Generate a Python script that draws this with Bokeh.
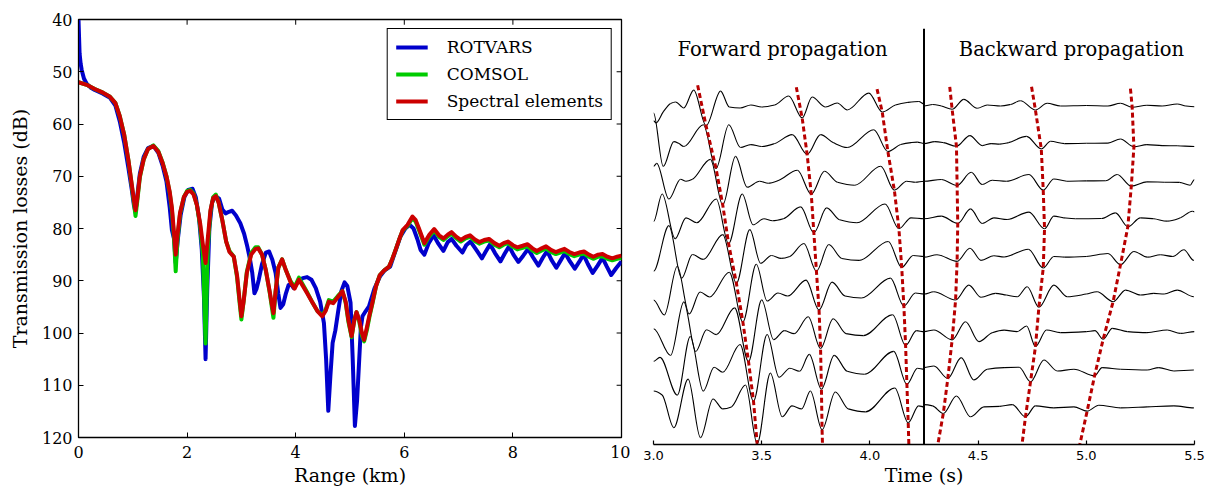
from bokeh.plotting import figure
from bokeh.layouts import row
from bokeh.models import (Range1d, FixedTicker, Legend, LegendItem,
                          ColumnDataSource, Span)
from bokeh.core.properties import value
from bokeh.embed import file_html
from bokeh.resources import INLINE

SERIF = "DejaVu Serif"
SANS = "DejaVu Sans"

# ------------------------------------------------------------------ left panel data
range_ticks = [0, 2, 4, 6, 8, 10]
loss_ticks = [40, 50, 60, 70, 80, 90, 100, 110, 120]

# ROTVARS : (range km, transmission loss dB)
rotvars_rows = [
    (0.00, 40.0), (0.02, 46.5), (0.04, 48.5), (0.06, 49.7), (0.10, 51.3), (0.15, 52.3),
    (0.22, 53.0), (0.30, 53.5), (0.45, 54.2), (0.58, 55.0), (0.68, 56.5), (0.76, 59.5),
    (0.84, 63.5), (0.92, 68.5), (0.98, 72.5), (1.02, 75.5), (1.05, 76.9), (1.08, 74.0),
    (1.13, 69.5), (1.20, 66.3), (1.28, 64.6), (1.38, 64.2), (1.47, 65.5), (1.55, 68.0),
    (1.62, 71.0), (1.68, 76.0), (1.72, 80.3), (1.76, 82.0), (1.79, 86.6), (1.83, 82.0),
    (1.88, 77.5), (1.95, 74.0), (2.02, 72.6), (2.10, 72.4), (2.16, 74.0), (2.22, 78.0),
    (2.27, 84.0), (2.31, 93.0), (2.34, 105.0), (2.37, 92.0), (2.41, 80.0), (2.46, 75.0),
    (2.52, 73.8), (2.59, 74.3), (2.65, 76.4), (2.71, 77.1), (2.77, 76.8), (2.83, 76.6),
    (2.90, 77.5), (2.98, 79.0), (3.05, 81.0), (3.11, 83.5), (3.16, 86.0), (3.20, 88.5),
    (3.24, 92.4), (3.28, 91.5), (3.32, 89.8), (3.38, 86.8), (3.45, 84.6), (3.51, 84.4),
    (3.57, 86.0), (3.63, 88.5), (3.68, 92.5), (3.72, 95.2), (3.77, 94.5), (3.82, 92.4),
    (3.87, 90.8), (3.92, 90.7), (3.96, 91.4), (4.05, 90.1), (4.13, 89.5), (4.21, 89.3),
    (4.29, 89.8), (4.37, 91.4), (4.45, 94.0), (4.52, 98.1), (4.56, 105.0), (4.60, 114.9),
    (4.64, 108.0), (4.68, 101.9), (4.73, 99.5), (4.78, 96.0), (4.84, 92.0), (4.90, 90.3),
    (4.95, 91.0), (5.01, 94.2), (5.05, 105.0), (5.09, 117.8), (5.13, 113.0), (5.16, 107.0),
    (5.20, 99.0), (5.23, 96.8), (5.29, 95.8), (5.35, 94.9), (5.45, 91.5), (5.55, 89.2),
    (5.64, 88.0), (5.74, 87.3), (5.83, 84.5), (5.93, 81.5), (6.02, 80.0), (6.10, 79.3),
    (6.17, 80.0), (6.24, 82.0), (6.30, 84.1), (6.37, 85.0), (6.45, 82.8), (6.54, 81.3),
    (6.62, 82.8), (6.72, 84.3), (6.80, 82.6), (6.87, 82.0), (6.96, 83.3), (7.07, 84.6),
    (7.14, 83.2), (7.22, 82.5), (7.32, 84.0), (7.43, 85.7), (7.50, 84.4), (7.58, 83.0),
    (7.67, 84.7), (7.77, 86.3), (7.85, 84.8), (7.93, 83.4), (8.01, 85.0), (8.10, 86.4),
    (8.19, 85.2), (8.28, 83.9), (8.37, 85.5), (8.47, 87.1), (8.55, 85.6), (8.63, 84.3),
    (8.71, 86.0), (8.80, 87.5), (8.88, 86.1), (8.96, 84.7), (9.05, 86.3), (9.14, 87.7),
    (9.22, 86.4), (9.30, 85.0), (9.38, 86.8), (9.47, 88.5), (9.56, 87.1), (9.65, 85.6),
    (9.73, 87.3), (9.81, 88.9), (9.90, 87.6), (10.00, 86.3),
]

# Spectral elements and COMSOL : (range km, spectral elements dB, COMSOL dB)
se_comsol_rows = [
    (0.00, 52.0, 52.0), (0.15, 52.5, 52.5), (0.30, 53.3, 53.3), (0.45, 54.0, 54.0),
    (0.58, 54.8, 54.8), (0.68, 56.0, 56.0), (0.76, 58.5, 58.5), (0.84, 62.0, 62.0),
    (0.92, 67.0, 67.0), (0.98, 71.5, 71.7), (1.02, 74.5, 75.0), (1.05, 76.5, 77.6),
    (1.08, 74.5, 75.0), (1.13, 70.0, 70.2), (1.20, 66.8, 66.8), (1.28, 64.8, 64.8),
    (1.38, 64.2, 64.1), (1.47, 65.3, 65.2), (1.55, 67.5, 67.4), (1.62, 70.0, 70.0),
    (1.68, 73.0, 73.2), (1.72, 76.0, 76.5), (1.76, 81.0, 82.0), (1.79, 85.0, 88.2),
    (1.82, 81.5, 82.5), (1.87, 77.0, 77.2), (1.94, 74.0, 74.0), (2.00, 73.0, 72.8),
    (2.06, 72.8, 72.6), (2.12, 73.5, 73.3), (2.18, 75.5, 75.5), (2.24, 79.0, 79.5),
    (2.29, 83.0, 85.0), (2.34, 86.6, 102.0), (2.38, 82.0, 84.0), (2.43, 76.5, 76.8),
    (2.48, 74.2, 74.0), (2.53, 73.8, 73.5), (2.58, 75.0, 75.0), (2.65, 78.5, 78.5),
    (2.72, 82.5, 82.5), (2.78, 84.5, 84.3), (2.86, 85.4, 85.4), (2.92, 89.0, 89.3),
    (2.97, 94.0, 94.5), (3.00, 96.8, 97.4), (3.04, 94.0, 94.0), (3.10, 88.5, 88.3),
    (3.18, 85.0, 84.7), (3.26, 83.9, 83.6), (3.31, 83.8, 83.6), (3.38, 85.0, 85.0),
    (3.45, 88.0, 88.0), (3.52, 92.0, 92.2), (3.56, 94.5, 95.0), (3.59, 96.2, 97.1),
    (3.63, 92.0, 92.0), (3.68, 87.5, 87.5), (3.75, 85.9, 85.9), (3.82, 88.0, 88.0),
    (3.91, 90.4, 90.2), (3.98, 91.5, 91.2), (4.06, 89.8, 89.4), (4.12, 90.8, 90.5),
    (4.20, 92.2, 92.0), (4.30, 94.0, 94.0), (4.40, 95.8, 95.8), (4.49, 96.8, 96.6),
    (4.55, 95.8, 95.6), (4.61, 94.0, 93.7), (4.69, 94.3, 94.0), (4.77, 93.2, 93.0),
    (4.86, 92.0, 92.0), (4.92, 94.0, 94.2), (4.97, 97.5, 97.8), (5.03, 100.6, 100.8),
    (5.08, 97.5, 97.5), (5.12, 96.0, 96.0), (5.17, 97.5, 97.8), (5.22, 100.0, 100.5),
    (5.26, 101.3, 101.6), (5.31, 99.0, 99.5), (5.36, 96.5, 96.8), (5.41, 94.3, 94.5),
    (5.48, 91.0, 91.0), (5.55, 88.9, 88.9), (5.63, 88.0, 88.0), (5.72, 87.3, 87.3),
    (5.78, 85.8, 85.8), (5.84, 84.1, 84.1), (5.91, 82.0, 82.0), (5.97, 80.3, 80.4),
    (6.06, 79.3, 79.5), (6.15, 77.7, 78.0), (6.21, 78.4, 78.7), (6.27, 80.0, 80.3),
    (6.37, 82.8, 83.1), (6.46, 81.2, 81.5), (6.55, 80.1, 80.4), (6.64, 81.3, 81.6),
    (6.72, 81.9, 82.2), (6.80, 81.2, 81.5), (6.87, 80.7, 81.0), (6.96, 81.6, 81.9),
    (7.04, 82.2, 82.5), (7.13, 81.6, 81.9), (7.21, 81.3, 81.6), (7.30, 82.1, 82.4),
    (7.38, 82.6, 82.9), (7.47, 82.2, 82.5), (7.56, 82.0, 82.3), (7.66, 82.8, 83.1),
    (7.75, 83.3, 83.6), (7.83, 82.8, 83.1), (7.91, 82.5, 82.8), (8.00, 83.2, 83.5),
    (8.08, 83.6, 84.0), (8.18, 83.3, 83.7), (8.27, 83.0, 83.4), (8.36, 83.8, 84.2),
    (8.44, 84.3, 84.7), (8.53, 83.8, 84.2), (8.61, 83.4, 83.8), (8.70, 84.1, 84.5),
    (8.79, 84.5, 84.9), (8.87, 84.2, 84.6), (8.95, 83.9, 84.3), (9.04, 84.5, 84.9),
    (9.13, 84.9, 85.3), (9.22, 84.6, 85.0), (9.31, 84.4, 84.8), (9.40, 85.0, 85.4),
    (9.48, 85.4, 85.8), (9.57, 85.0, 85.4), (9.65, 84.9, 85.3), (9.74, 85.4, 85.8),
    (9.83, 85.7, 86.1), (9.92, 85.4, 85.8), (10.00, 85.2, 85.6),
]

rotvars_km = [r[0] for r in rotvars_rows]
rotvars_db = [r[1] for r in rotvars_rows]
se_km = [r[0] for r in se_comsol_rows]
se_db = [r[1] for r in se_comsol_rows]
comsol_db = [r[2] for r in se_comsol_rows]

# ------------------------------------------------------------------ right panel data
time_ticks = [3.0, 3.5, 4.0, 4.5, 5.0, 5.5]
time_tick_labels = ["3.0", "3.5", "4.0", "4.5", "5.0", "5.5"]
switch_time = 4.25
trace_offsets = [9, 8, 7, 6, 5, 4, 3, 2, 1]
trace_gain = 1 / 37.9

# forward traces: (time s, amplitude)
fwd1 = [(3.000, -15), (3.012, -17), (3.045, -6), (3.079, 2.5), (3.102, 4), (3.140, -2), (3.186, 16),
        (3.243, -20), (3.310, 15), (3.350, -1), (3.400, -2), (3.450, 1), (3.500, -1), (3.560, 1),
        (3.625, 10), (3.687, -12), (3.733, 9), (3.795, -1), (3.849, 3), (3.895, -4), (3.995, 13),
        (4.057, -6), (4.118, 1), (4.172, 3.5), (4.226, 4.5), (4.250, 2)]
fwd2 = [(3.000, 31), (3.045, -23), (3.094, 2), (3.118, 0), (3.140, -3), (3.230, 19), (3.289, -25),
        (3.348, 19), (3.402, -4), (3.450, -1), (3.500, -3), (3.560, 0), (3.641, 9), (3.710, -11),
        (3.772, 9), (3.830, 1), (3.895, -4), (4.018, 14), (4.083, -8), (4.142, -1), (4.190, 1),
        (4.219, 1.5), (4.250, 0)]
fwd3 = [(3.000, 15), (3.015, 18), (3.071, -18), (3.125, 2), (3.150, 0), (3.180, 2), (3.263, 22),
        (3.320, -24), (3.379, 25), (3.433, -6), (3.490, 0), (3.530, -2), (3.580, 1), (3.665, 11),
        (3.729, -13), (3.790, 10), (3.850, -1), (3.930, -4), (4.050, 15), (4.113, -9), (4.170, 0),
        (4.210, -1), (4.250, 0)]
fwd4 = [(3.000, -3), (3.040, 25), (3.100, -20), (3.150, 1), (3.200, -4), (3.290, 20), (3.347, -25),
        (3.410, 25), (3.460, -6), (3.510, 0), (3.550, -2), (3.600, 0), (3.680, 12), (3.741, -14),
        (3.800, 11), (3.860, -1), (3.940, -4), (4.070, 15), (4.134, -10), (4.190, 1), (4.250, 0)]
fwd5 = [(3.000, -15), (3.071, 31), (3.130, -22), (3.180, 2), (3.230, -3), (3.320, 22), (3.383, -27),
        (3.445, 27), (3.495, -7), (3.545, 1), (3.590, -2), (3.630, 0), (3.695, 13), (3.753, -15),
        (3.810, 12), (3.870, -2), (3.950, -4), (4.085, 15), (4.147, -11), (4.200, 1), (4.250, 0)]
fwd6 = [(3.000, -6), (3.050, -21), (3.110, 28), (3.165, -20), (3.215, 2), (3.260, -3), (3.350, 22),
        (3.413, -28), (3.475, 30), (3.525, -7), (3.575, 1), (3.620, -2), (3.705, 14), (3.765, -16),
        (3.825, 12), (3.885, -2), (3.960, -4), (4.095, 16), (4.157, -12), (4.210, 1), (4.250, 0)]
fwd7 = [(3.000, 3), (3.079, -24), (3.140, 30), (3.195, -20), (3.245, 2), (3.290, -3), (3.375, 24),
        (3.439, -30), (3.500, 32), (3.555, -8), (3.605, 1), (3.650, -2), (3.715, 15), (3.772, -17),
        (3.830, 13), (3.890, -2), (3.970, -4), (4.105, 17), (4.165, -14), (4.215, 1), (4.250, 0)]
fwd8 = [(3.000, 8), (3.030, 12), (3.110, -26), (3.170, 33), (3.230, -22), (3.280, 2), (3.320, -3),
        (3.400, 25), (3.462, -32), (3.525, 35), (3.580, -8), (3.630, 1), (3.675, -2), (3.720, 15),
        (3.776, -20), (3.835, 14), (3.895, -2), (3.975, -5), (4.110, 18), (4.171, -15), (4.220, 1),
        (4.250, 0)]
fwd9 = [(3.000, 16), (3.040, 12), (3.094, -21), (3.160, 28), (3.217, -31), (3.275, 8), (3.320, -2),
        (3.360, 0), (3.425, 22), (3.479, -37), (3.540, 34), (3.595, -10), (3.640, 1), (3.685, -2),
        (3.725, 16), (3.779, -23), (3.840, 15), (3.900, -2), (3.980, -5), (4.115, 19), (4.177, -16),
        (4.225, 1), (4.250, 0)]

# backward traces: (time s, amplitude)
bwd1 = [(4.250, 0), (4.290, 1.5), (4.330, 0), (4.380, -3.3), (4.434, 6.7), (4.496, -2.3), (4.542, 1),
        (4.604, 0), (4.650, 1.5), (4.696, 5.3), (4.765, -4), (4.819, 2.7), (4.881, 0), (5.000, 0.5),
        (5.100, 0), (5.158, 2.7), (5.212, -1.3), (5.280, 0.7), (5.350, 0), (5.420, 2), (5.460, 0),
        (5.500, -0.7)]
bwd2 = [(4.250, 0), (4.300, 2), (4.340, 1), (4.400, -2.7), (4.462, 8), (4.519, -2), (4.560, 0),
        (4.600, -0.5), (4.640, 1), (4.724, 7.3), (4.792, -5.3), (4.835, 2.3), (4.900, 0), (5.000, 0.3),
        (5.100, 0.5), (5.158, 4.7), (5.220, -3.3), (5.280, -1), (5.350, -2), (5.420, -2.2), (5.500, -3)]
bwd3 = [(4.250, 0), (4.330, 1.7), (4.403, -4.3), (4.468, 9), (4.519, -3.3), (4.565, 1), (4.630, 0),
        (4.735, 6.7), (4.801, -9), (4.850, 2.3), (4.910, 0), (5.000, 0.3), (5.090, 0.5), (5.143, 6.7),
        (5.208, -5), (5.280, -0.7), (5.360, -1), (5.430, -1.2), (5.480, -4), (5.500, 1.7)]
bwd4 = [(4.250, 0), (4.330, 2.7), (4.406, -4.7), (4.465, 10), (4.519, -4.7), (4.573, 1), (4.634, -0.7),
        (4.735, 6.7), (4.807, -10), (4.850, 2.7), (4.896, 1), (4.950, 0), (5.070, 0.3), (5.135, 6),
        (5.192, -8), (5.250, 1), (5.312, 0), (5.374, -2.3), (5.435, 1), (5.490, 7.7), (5.500, 7)]
bwd5 = [(4.250, -0.7), (4.310, 1.7), (4.403, -5), (4.462, 8.3), (4.514, -4), (4.573, 0.7), (4.620, -0.5),
        (4.732, 7.3), (4.801, -11.7), (4.850, 0), (4.900, -0.7), (5.000, 0), (5.100, 3), (5.158, -8.3),
        (5.220, 5), (5.282, -0.7), (5.343, 1.7), (5.400, 0), (5.451, 6.7), (5.497, -4)]
bwd6 = [(4.250, 0), (4.295, 2.3), (4.396, -6), (4.457, 9), (4.514, -3.3), (4.580, 0.7), (4.630, -1),
        (4.681, -2.7), (4.727, 7.3), (4.781, -13.3), (4.850, 9), (4.912, -2.7), (5.000, 0), (5.050, 2.3),
        (5.124, -7.7), (5.181, 4), (5.250, -1), (5.312, 0.7), (5.360, 0), (5.420, 4), (5.497, -2.7)]
bwd7 = [(4.250, 0), (4.296, 1.7), (4.380, -8.3), (4.442, 10), (4.504, -10), (4.565, -1), (4.620, 1.5),
        (4.680, 0), (4.724, 5.7), (4.765, -15), (4.816, 1.7), (4.880, -1), (5.000, 0), (5.040, 1),
        (5.078, -7.7), (5.120, 3.3), (5.190, 0), (5.280, -1), (5.374, 1.7), (5.435, -1.7), (5.500, 0)]
bwd8 = [(4.250, 1.7), (4.296, 3.3), (4.360, -9.3), (4.422, 11.7), (4.480, -10.7), (4.542, 0),
        (4.620, 1.7), (4.690, 2), (4.742, -12.7), (4.804, 9.3), (4.866, -1.7), (4.943, 0),
        (5.038, -6.7), (5.073, 1.7), (5.158, 0), (5.281, -0.7), (5.335, 1.7), (5.405, -1.7),
        (5.497, -0.7)]
bwd9 = [(4.250, 2.3), (4.290, 1), (4.339, -6.7), (4.400, 11), (4.465, -10), (4.527, 0), (4.600, 0.5),
        (4.658, 2.3), (4.719, -10), (4.765, 1), (4.850, -1), (4.943, 0), (5.004, -4.3), (5.058, 1.7),
        (5.158, -1), (5.281, 0), (5.405, 1), (5.497, -1)]

forward_traces = [fwd1, fwd2, fwd3, fwd4, fwd5, fwd6, fwd7, fwd8, fwd9]
backward_traces = [bwd1, bwd2, bwd3, bwd4, bwd5, bwd6, bwd7, bwd8, bwd9]

# picked arrivals (time s, trace-offset units)
pick_f1_t = [3.204, 3.243, 3.289, 3.320, 3.347, 3.383, 3.413, 3.439, 3.462, 3.479]
pick_f1_y = [9.55, 8.47, 7.34, 6.37, 5.34, 4.29, 3.26, 2.21, 1.16, 0.02]
pick_f2_t = [3.660, 3.687, 3.710, 3.729, 3.741, 3.753, 3.765, 3.772, 3.776, 3.779, 3.781]
pick_f2_y = [9.50, 8.68, 7.71, 6.66, 5.63, 4.60, 3.58, 2.55, 1.47, 0.39, 0.00]
pick_f3_t = [4.033, 4.057, 4.083, 4.113, 4.134, 4.147, 4.157, 4.165, 4.171, 4.177, 4.180]
pick_f3_y = [9.45, 8.84, 7.79, 6.76, 5.74, 4.71, 3.68, 2.63, 1.60, 0.58, 0.00]
pick_b1_t = [4.369, 4.380, 4.400, 4.403, 4.406, 4.403, 4.396, 4.380, 4.360, 4.339, 4.314]
pick_b1_y = [9.51, 8.91, 7.93, 6.89, 5.88, 4.87, 3.84, 2.78, 1.75, 0.82, 0.00]
pick_b2_t = [4.747, 4.765, 4.792, 4.801, 4.807, 4.801, 4.781, 4.765, 4.742, 4.719, 4.703]
pick_b2_y = [9.51, 8.89, 7.86, 6.76, 5.74, 4.69, 3.65, 2.60, 1.66, 0.74, 0.00]
pick_b3_t = [5.204, 5.212, 5.220, 5.208, 5.192, 5.158, 5.124, 5.078, 5.038, 5.004, 4.970]
pick_b3_y = [9.46, 8.97, 7.91, 6.87, 5.79, 4.78, 3.80, 2.80, 1.82, 0.89, 0.00]
picks = [(pick_f1_t, pick_f1_y), (pick_f2_t, pick_f2_y), (pick_f3_t, pick_f3_y),
         (pick_b1_t, pick_b1_y), (pick_b2_t, pick_b2_y), (pick_b3_t, pick_b3_y)]

# ------------------------------------------------------------------ left figure
p1 = figure(width=630, height=488, x_range=Range1d(0, 10), y_range=Range1d(120, 40),
            output_backend="svg", toolbar_location=None,
            min_border_left=78, min_border_right=9, min_border_top=19, min_border_bottom=50)
p1.frame_align = False
p1.xgrid.visible = False
p1.ygrid.visible = False
p1.outline_line_color = "black"
p1.outline_line_width = 1.3
p1.outline_line_alpha = 1.0


def style_axis(ax, font, size):
    ax.major_label_text_font = font
    ax.major_label_text_font_size = size
    ax.major_label_text_color = "black"
    ax.major_tick_in = 5
    ax.major_tick_out = 0
    ax.major_tick_line_color = "black"
    ax.minor_tick_line_color = None
    ax.axis_line_color = "black"
    ax.axis_label_text_font = SERIF
    ax.axis_label_text_font_size = "19px"
    ax.axis_label_text_font_style = "normal"
    ax.axis_label_text_color = "black"


p1.xaxis.ticker = FixedTicker(ticks=range_ticks)
p1.yaxis.ticker = FixedTicker(ticks=loss_ticks)
style_axis(p1.xaxis[0], SERIF, "16px")
style_axis(p1.yaxis[0], SERIF, "16px")
p1.xaxis.axis_label = "Range (km)"
p1.yaxis.axis_label = "Transmission losses (dB)"
p1.xaxis.major_label_standoff = 8
p1.xaxis.axis_label_standoff = 3
p1.yaxis.major_label_standoff = 6
p1.yaxis.axis_label_standoff = 8

# mirrored inward ticks on the top and right frame edges (tick length in data units)
tick_len_db = 1.0
tick_len_km = 0.09
y_top = p1.y_range.end
x_right = p1.x_range.end
p1.segment(x0=range_ticks, y0=[y_top] * len(range_ticks), x1=range_ticks,
           y1=[y_top + tick_len_db] * len(range_ticks), line_color="black", line_width=1)
p1.segment(x0=[x_right] * len(loss_ticks), y0=loss_ticks, x1=[x_right - tick_len_km] * len(loss_ticks),
           y1=loss_ticks, line_color="black", line_width=1)

r_rot = p1.line(rotvars_km, rotvars_db, line_color="#0000cc", line_width=4, line_join="round")
r_com = p1.line(se_km, comsol_db, line_color="#00cc00", line_width=4, line_join="round")
r_se = p1.line(se_km, se_db, line_color="#cc0000", line_width=4, line_join="round")

legend = Legend(items=[LegendItem(label="ROTVARS", renderers=[r_rot]),
                       LegendItem(label="COMSOL", renderers=[r_com]),
                       LegendItem(label="Spectral elements", renderers=[r_se])],
                location="top_right")
legend.label_text_font = SERIF
legend.label_text_font_size = "17px"
legend.label_text_color = "black"
legend.glyph_width = 32
legend.glyph_height = 18
legend.label_height = 18
legend.label_standoff = 19
legend.padding = 8
legend.spacing = 7
legend.margin = 9
legend.border_line_color = "black"
legend.border_line_width = 1
legend.border_line_alpha = 1.0
legend.background_fill_alpha = 1.0
p1.add_layout(legend)

# ------------------------------------------------------------------ right figure
p2 = figure(width=578, height=488, x_range=Range1d(3.0, 5.5), y_range=Range1d(0, 11.06),
            output_backend="svg", toolbar_location=None,
            min_border_left=23, min_border_right=14, min_border_top=28, min_border_bottom=41)
p2.frame_align = False
p2.xgrid.visible = False
p2.ygrid.visible = False
p2.yaxis.visible = False
p2.outline_line_color = None
p2.xaxis.ticker = FixedTicker(ticks=time_ticks)
p2.xaxis.major_label_overrides = {t: s for t, s in zip(time_ticks, time_tick_labels)}
style_axis(p2.xaxis[0], SANS, "13px")
p2.xaxis.major_tick_in = 4
p2.xaxis.axis_line_width = 1.5
p2.xaxis.major_tick_line_width = 1.2
p2.xaxis.axis_label = "Time (s)"
p2.xaxis.major_label_standoff = 6
p2.xaxis.axis_label_standoff = 1

segs = dict(x0=[], y0=[], x1=[], y1=[], cx0=[], cy0=[], cx1=[], cy1=[])


def add_trace(points, offset):
    ts = [pt[0] for pt in points]
    ys = [offset + pt[1] * trace_gain for pt in points]
    n = len(ts)
    d = [(ys[i + 1] - ys[i]) / (ts[i + 1] - ts[i]) for i in range(n - 1)]
    m = [0.0] * n
    for i in range(1, n - 1):
        if d[i - 1] * d[i] > 0:
            m[i] = 2 * d[i - 1] * d[i] / (d[i - 1] + d[i])
    for i in range(n - 1):
        h = ts[i + 1] - ts[i]
        segs["x0"].append(ts[i])
        segs["y0"].append(ys[i])
        segs["x1"].append(ts[i + 1])
        segs["y1"].append(ys[i + 1])
        segs["cx0"].append(ts[i] + h / 3)
        segs["cy0"].append(ys[i] + m[i] * h / 3)
        segs["cx1"].append(ts[i + 1] - h / 3)
        segs["cy1"].append(ys[i + 1] - m[i + 1] * h / 3)


for tr, off in zip(forward_traces, trace_offsets):
    add_trace(tr, off)
for tr, off in zip(backward_traces, trace_offsets):
    add_trace(tr, off)

p2.bezier(x0="x0", y0="y0", x1="x1", y1="y1", cx0="cx0", cy0="cy0", cx1="cx1", cy1="cy1",
          source=ColumnDataSource(segs), line_color="black", line_width=1.1)

for pt, py in picks:
    p2.line(pt, py, line_color="#b80000", line_width=3, line_dash="5 3")

p2.add_layout(Span(location=switch_time, dimension="height", line_color="black", line_width=2))

p2.text(x=[3.596, 4.931], y=[10.5, 10.5], text=["Forward propagation", "Backward propagation"],
        text_font=value(SERIF), text_font_size=value("19.5px"), text_align="center",
        text_baseline="middle", text_color="black")

layout = row(p1, p2)
open("out.html", "w").write(file_html(layout, INLINE))
